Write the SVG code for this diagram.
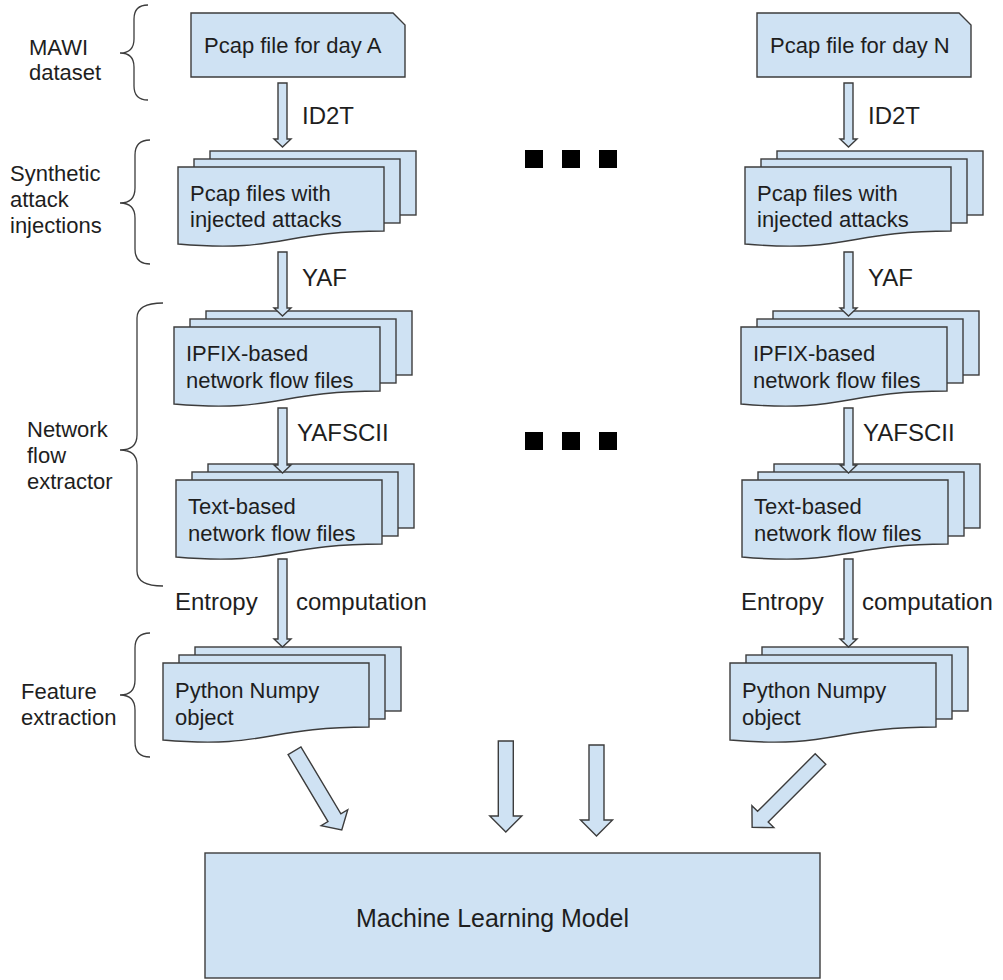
<svg xmlns="http://www.w3.org/2000/svg" xmlns:xlink="http://www.w3.org/1999/xlink" width="1003" height="980" viewBox="0 0 1003 980">
  <style>
    .shape { fill: #cfe2f3; stroke: #3c3c3c; stroke-width: 1.4; stroke-linejoin: miter; }
    .brace { fill: none; stroke: #3c3c3c; stroke-width: 1.3; }
    .txt { font-family: "Liberation Sans", Arial, sans-serif; font-size: 22px; fill: #1e1e1e; }
    .lbl { font-family: "Liberation Sans", Arial, sans-serif; font-size: 24px; fill: #1e1e1e; }
    .dot { fill: #000; }
  </style>
  <defs>
    <!-- stacked document shape; origin at the front sheet's top-left corner -->
    <g id="multidoc">
      <rect class="shape" x="32" y="-16" width="206" height="64"/>
      <rect class="shape" x="16" y="-8" width="206" height="64"/>
      <path class="shape" d="M0,0 H206 V64 C103,64 103,86 0,77 Z"/>
    </g>
    <!-- small down arrow, 64 px long, origin at the top centre of the shaft -->
    <path id="arrowSmall" class="shape" d="M-4.5,0 H4.5 V-8 H8.5 L0,0 L-8.5,-8 H-4.5 Z" transform="translate(0,0)"/>
  </defs>

  <!-- section braces and captions on the left -->
  <g id="label-mawi">
    <path class="brace" d="M148,5 Q134,5 134,19 V39 Q134,53 120,53 Q134,53 134,67 V86 Q134,100 148,100"/>
    <text class="txt" x="29" y="55">MAWI</text>
    <text class="txt" x="29" y="80">dataset</text>
  </g>
  <g id="label-synthetic">
    <path class="brace" d="M150,140 Q135,140 135,155 V188 Q135,203 120,203 Q135,203 135,218 V249 Q135,264 150,264"/>
    <text class="txt" x="10" y="181">Synthetic</text>
    <text class="txt" x="10" y="207">attack</text>
    <text class="txt" x="10" y="233">injections</text>
  </g>
  <g id="label-network">
    <path class="brace" d="M163,303 Q137,303 137,318 V435 Q137,450 120,450 Q137,450 137,465 V571 Q137,586 163,586"/>
    <text class="txt" x="27" y="437">Network</text>
    <text class="txt" x="27" y="463">flow</text>
    <text class="txt" x="27" y="489">extractor</text>
  </g>
  <g id="label-feature">
    <path class="brace" d="M150,633 Q135,633 135,648 V680 Q135,695 120,695 Q135,695 135,710 V742 Q135,757 150,757"/>
    <text class="txt" x="21" y="699">Feature</text>
    <text class="txt" x="21" y="725">extraction</text>
  </g>

  <!-- column for day A -->
  <g id="pcap-a">
    <path class="shape" d="M191,13 H393 L405,25 V77 H191 Z"/>
    <text class="txt" x="204" y="53">Pcap file for day A</text>
  </g>
  <g id="injected-a">
    <use xlink:href="#multidoc" x="178" y="167"/>
    <text class="txt" x="190" y="201">Pcap files with</text>
    <text class="txt" x="190" y="227">injected attacks</text>
  </g>
  <g id="ipfix-a">
    <use xlink:href="#multidoc" x="174" y="327"/>
    <text class="txt" x="186" y="361">IPFIX-based</text>
    <text class="txt" x="186" y="388">network flow files</text>
  </g>
  <g id="text-a">
    <use xlink:href="#multidoc" x="176" y="480"/>
    <text class="txt" x="188" y="514">Text-based</text>
    <text class="txt" x="188" y="541">network flow files</text>
  </g>
  <g id="numpy-a">
    <use xlink:href="#multidoc" x="163" y="663"/>
    <text class="txt" x="175" y="698">Python Numpy</text>
    <text class="txt" x="175" y="725">object</text>
  </g>

  <!-- column for day N -->
  <g id="pcap-n">
    <path class="shape" d="M757,13 H959 L971,25 V77 H757 Z"/>
    <text class="txt" x="770" y="53">Pcap file for day N</text>
  </g>
  <g id="injected-n">
    <use xlink:href="#multidoc" x="745" y="167"/>
    <text class="txt" x="757" y="201">Pcap files with</text>
    <text class="txt" x="757" y="227">injected attacks</text>
  </g>
  <g id="ipfix-n">
    <use xlink:href="#multidoc" x="741" y="327"/>
    <text class="txt" x="753" y="361">IPFIX-based</text>
    <text class="txt" x="753" y="388">network flow files</text>
  </g>
  <g id="text-n">
    <use xlink:href="#multidoc" x="742" y="480"/>
    <text class="txt" x="754" y="514">Text-based</text>
    <text class="txt" x="754" y="541">network flow files</text>
  </g>
  <g id="numpy-n">
    <use xlink:href="#multidoc" x="730" y="663"/>
    <text class="txt" x="742" y="698">Python Numpy</text>
    <text class="txt" x="742" y="725">object</text>
  </g>

  <!-- ellipsis marks between the columns -->
  <g id="ellipsis-top">
    <rect class="dot" x="525" y="150" width="18" height="18"/>
    <rect class="dot" x="562" y="150" width="18" height="18"/>
    <rect class="dot" x="599" y="150" width="18" height="18"/>
  </g>
  <g id="ellipsis-mid">
    <rect class="dot" x="525" y="432" width="18" height="18"/>
    <rect class="dot" x="562" y="432" width="18" height="18"/>
    <rect class="dot" x="599" y="432" width="18" height="18"/>
  </g>

  <g id="ml-model">
    <rect class="shape" x="205" y="853" width="615" height="125"/>
    <text class="txt" x="356" y="927" style="font-size:25px" textLength="273" lengthAdjust="spacingAndGlyphs">Machine Learning Model</text>
  </g>

  <!-- block arrows between stages -->
  <g id="connectors">
    <!-- day A -->
    <path class="shape" d="M278,83 H287 V139 H291 L282.5,147 L274,139 H278 Z"/>
    <path class="shape" d="M278,252 H287 V308 H291 L282.5,316 L274,308 H278 Z"/>
    <path class="shape" d="M278,408 H287 V465 H291 L282.5,473 L274,465 H278 Z"/>
    <path class="shape" d="M278,559 H287 V639 H291 L282.5,647 L274,639 H278 Z"/>
    <!-- day N -->
    <path class="shape" d="M844,83 H853 V139 H857 L848.5,147 L840,139 H844 Z"/>
    <path class="shape" d="M844,252 H853 V308 H857 L848.5,316 L840,308 H844 Z"/>
    <path class="shape" d="M844,408 H853 V465 H857 L848.5,473 L840,465 H844 Z"/>
    <path class="shape" d="M844,559 H853 V639 H857 L848.5,647 L840,639 H844 Z"/>
    <!-- into the model -->
    <path class="shape" transform="translate(294.5,750.7) rotate(-30.8)" d="M-7.5,0 H7.5 V78 H15.5 L0,92.3 L-15.5,78 H-7.5 Z"/>
    <path class="shape" d="M498.3,741 H513.3 V816 H521.8 L505.8,832 L489.8,816 H498.3 Z"/>
    <path class="shape" d="M589,745 H604 V820 H612.5 L596.5,836 L580.5,820 H589 Z"/>
    <path class="shape" transform="translate(820.5,759) rotate(45)" d="M-7.5,0 H7.5 V81.5 H15.5 L0,96.7 L-15.5,81.5 H-7.5 Z"/>
  </g>

  <!-- arrow captions -->
  <g id="arrow-labels">
    <text class="lbl" x="302" y="124">ID2T</text>
    <text class="lbl" x="302" y="286">YAF</text>
    <text class="lbl" x="297" y="441">YAFSCII</text>
    <text class="lbl" x="175" y="610">Entropy</text>
    <text class="lbl" x="296" y="610">computation</text>
    <text class="lbl" x="868" y="124">ID2T</text>
    <text class="lbl" x="868" y="286">YAF</text>
    <text class="lbl" x="863" y="441">YAFSCII</text>
    <text class="lbl" x="741" y="610">Entropy</text>
    <text class="lbl" x="862" y="610">computation</text>
  </g>
</svg>
